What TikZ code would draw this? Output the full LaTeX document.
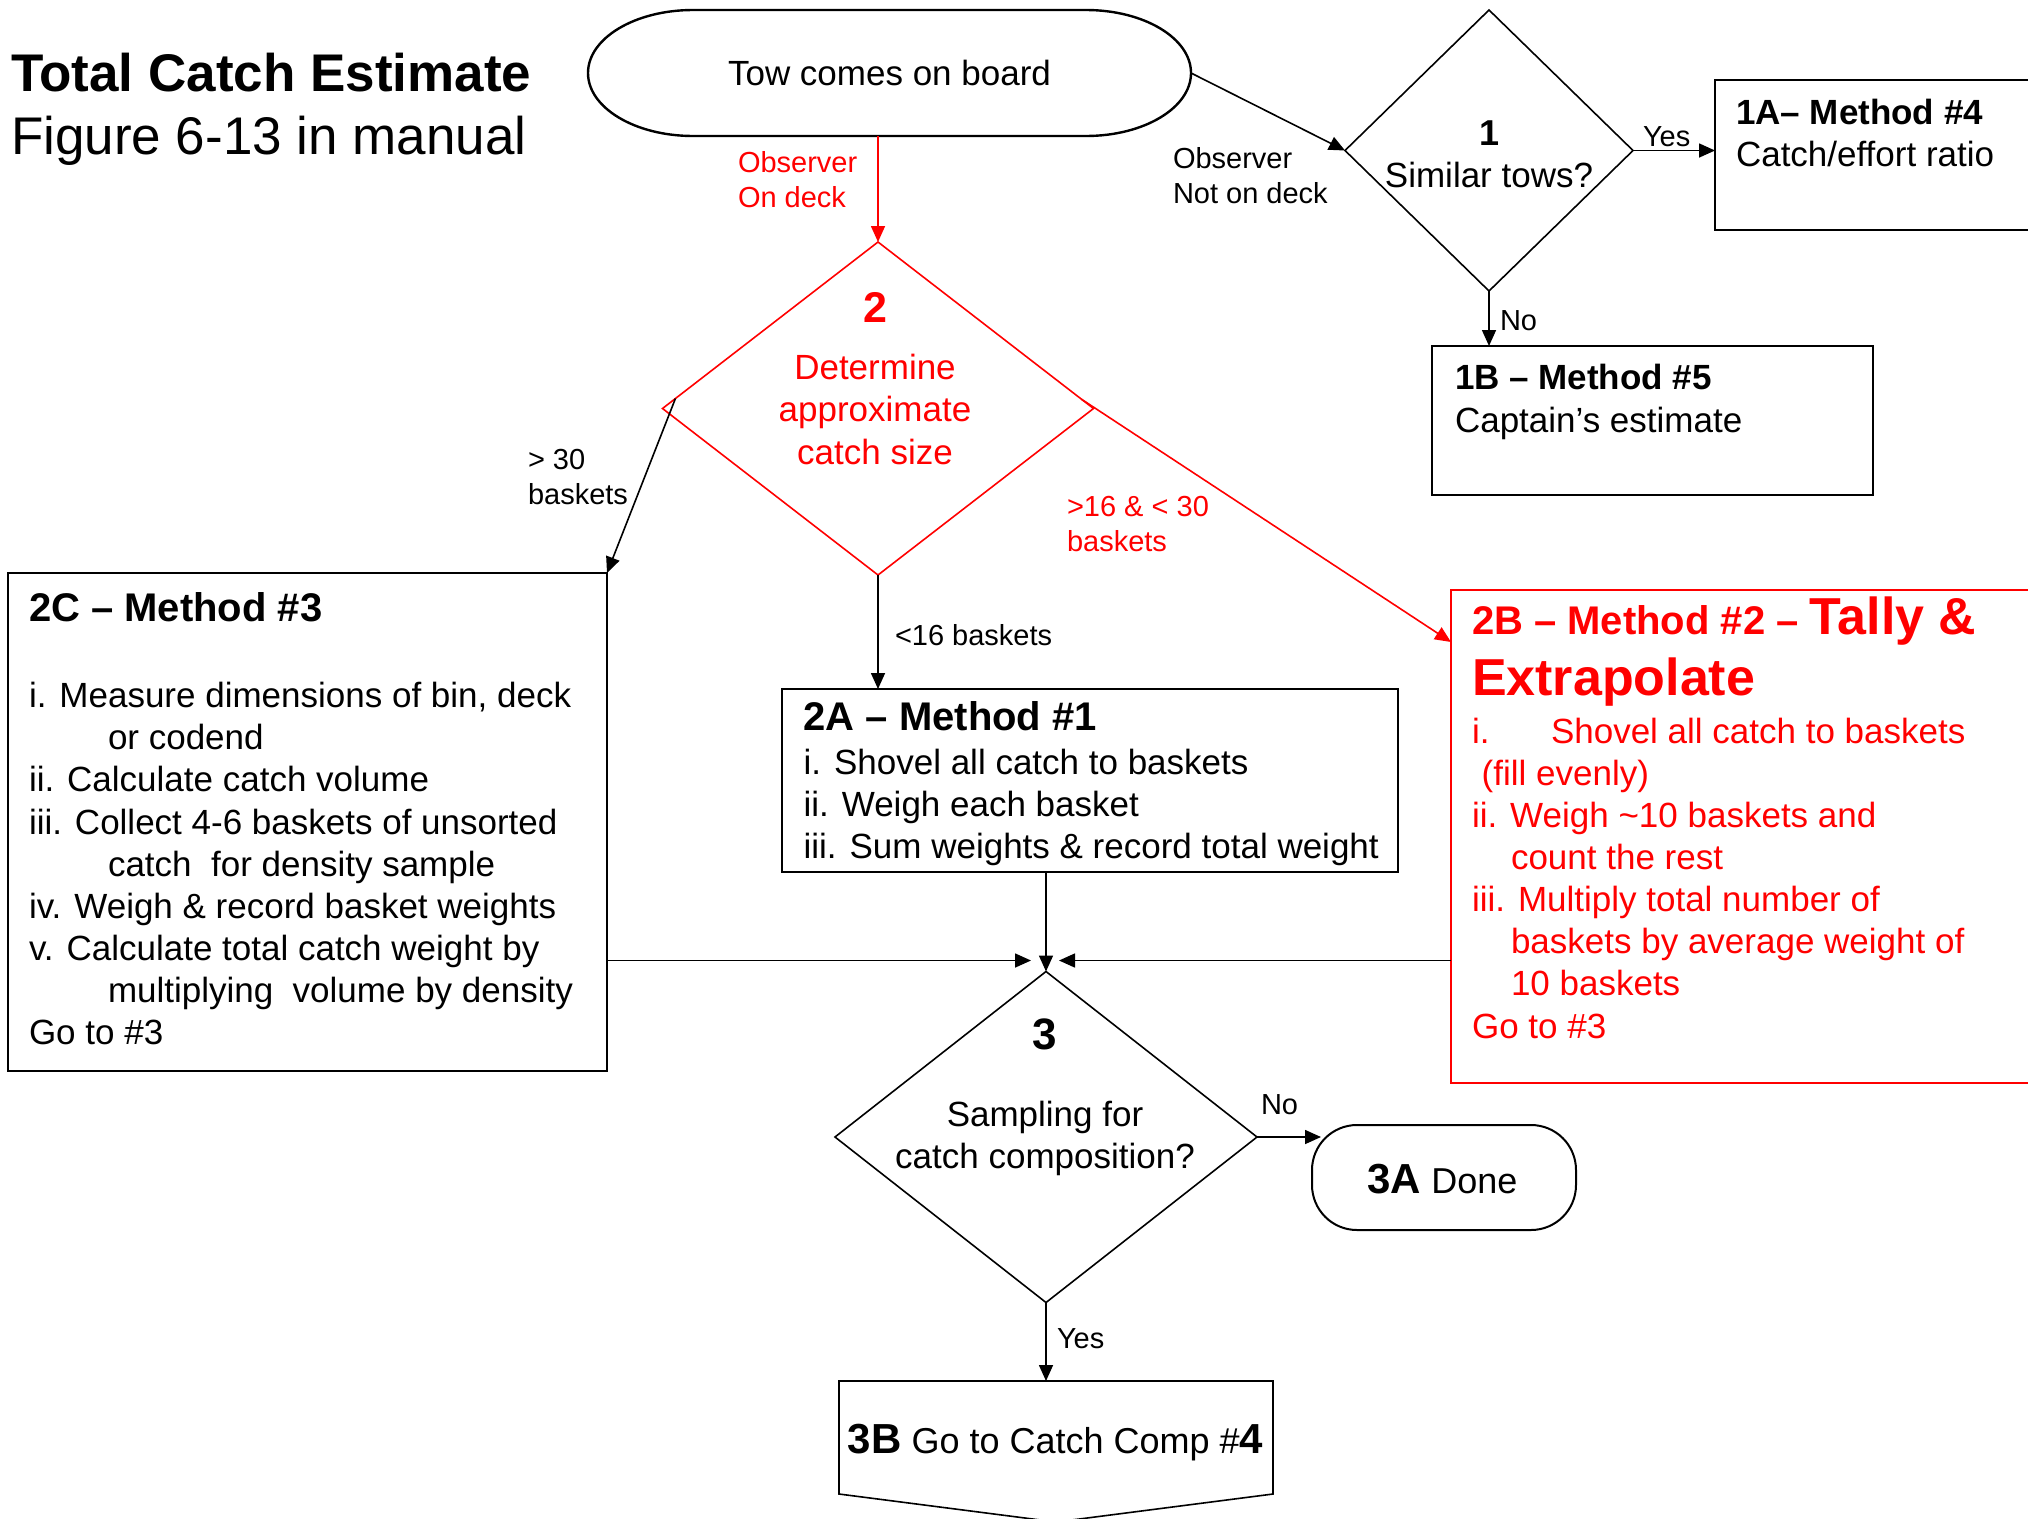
\documentclass[tikz,border=0pt]{standalone}
\usepackage{fontspec}
\setmainfont{Liberation Sans}
\usetikzlibrary{arrows.meta,calc,shapes.geometric}
\definecolor{flagred}{RGB}{255,0,0}
\newcommand{\fsz}[2]{\fontsize{#1}{#2}\selectfont}
\newcommand{\tightlines}{\lineskiplimit=-1000pt\relax}

\begin{document}
\begin{tikzpicture}[x=1pt,y=-1pt,
  every node/.style={inner sep=0pt,outer sep=0pt},
  frame/.style={draw,line width=2.4pt,rectangle,anchor=north west},
  decision/.style={draw,line width=1.6pt,shape=diamond},
  conn/.style={line width=1.6pt,-{Triangle[length=16pt,width=14pt]}},
  % multi-line texts are placed by the baseline of their last line
  txt/.style={anchor=base west,align=left,font=\fsz{35}{42.1}\tightlines},
  ctxt/.style={anchor=base,align=center,font=\fsz{35}{42.1}\tightlines},
  lbl/.style={anchor=base west,align=left,font=\fsz{29}{35}\tightlines}]

\useasboundingbox[fill=white] (0,0) rectangle (2028,1518);

% title
\node[anchor=base west,font=\bfseries\fsz{53}{60}] (title) at (11,91) {Total Catch Estimate};
\node[anchor=base west,font=\fsz{53}{60}] (subtitle) at (11,154) {Figure 6-13 in manual};

% start terminal with elliptical ends
\node[minimum width=603pt,minimum height=126pt] (tow) at (889.5,73) {};
\draw[line width=2.4pt] ($(tow.north west)+(105,0)$) -- ($(tow.north east)+(-105,0)$)
  arc[start angle=90,end angle=-90,x radius=105pt,y radius=63pt]
  -- ($(tow.south west)+(105,0)$)
  arc[start angle=-90,end angle=-270,x radius=105pt,y radius=63pt] -- cycle;
\node[anchor=base,font=\fsz{35}{42}] (towtext) at (889.5,85) {Tow comes on board};

% decisions
\node[decision,minimum width=288pt,minimum height=281pt] (d1) at (1489,150.5) {};
\node[ctxt] (d1text) at (1489,187.5) {{\bfseries\fsz{36}{42.1}1}\\Similar tows?};

\node[decision,draw=flagred,minimum width=431pt,minimum height=333pt] (d2) at (878,408.5) {};
\node[ctxt,text=flagred] (d2text) at (875,464)
  {{\bfseries\fsz{43}{42.1}2}\\[15.4pt]Determine\\approximate\\catch size};

\node[decision,minimum width=422pt,minimum height=331pt] (d3) at (1046,1137) {};
\node[ctxt] (d3text) at (1045,1168.5)
  {{\bfseries\fsz{44}{42.1}3}\\[34.9pt]Sampling for\\catch composition?};

% method boxes
\node[frame,minimum width=330pt,minimum height=150pt] (a1) at (1715,80) {};
\node[txt] (a1text) at (1736,166.5) {{\bfseries 1A– Method \#4}\\Catch/effort ratio};

\node[frame,minimum width=441pt,minimum height=149pt] (b1) at (1432,346) {};
\node[txt] (b1text) at (1455,432) {{\bfseries 1B – Method \#5}\\Captain’s estimate};

\node[frame,minimum width=599pt,minimum height=498pt] (c2) at (8,573) {};
\node[txt] (c2text) at (29,1044.5)
  {{\bfseries\fsz{40}{42.1}2C – Method \#3}\\[1.8pt]
   \\
   i. Measure dimensions of bin, deck\\
   \hspace*{79pt}or codend\\
   ii. Calculate catch volume\\
   iii. Collect 4-6 baskets of unsorted\\
   \hspace*{79pt}catch\ \ for density sample\\
   iv. Weigh \& record basket weights\\
   v. Calculate total catch weight by\\
   \hspace*{79pt}multiplying\ \ volume by density\\
   Go to \#3};

\node[frame,minimum width=616pt,minimum height=183pt] (a2) at (782,689) {};
\node[txt] (a2text) at (803.6,858.7)
  {{\bfseries\fsz{40}{42.1}2A – Method \#1}\\[1.8pt]
   i. Shovel all catch to baskets\\
   ii. Weigh each basket\\
   iii. Sum weights \& record total weight};

\node[frame,draw=flagred,line width=2pt,minimum width=600pt,minimum height=493pt] (b2) at (1451,590) {};
\node[txt,text=flagred] (b2text) at (1472,1038)
  {{\bfseries\fsz{40}{42.1}2B – Method \#2 – \fsz{52}{42.1}Tally \&}\\[19.5pt]
   {\bfseries\fsz{52}{42.1}Extrapolate}\\[5.3pt]
   \makebox[79pt][l]{i.}Shovel all catch to baskets\\
   \ (fill evenly)\\
   ii. Weigh \textasciitilde 10 baskets and\\
   \hspace*{39pt}count the rest\\
   iii. Multiply total number of\\
   \hspace*{39pt}baskets by average weight of\\
   \hspace*{39pt}10 baskets\\
   Go to \#3};

% end terminal and off-page connector
\node[draw,line width=2pt,rounded corners=45pt,minimum width=264pt,minimum height=105pt,anchor=north west] (e3) at (1312,1125) {};
\node[anchor=base,font=\fsz{36}{42}] (e3text) at (1442.5,1193) {{\bfseries\fsz{42}{48}3A} Done};

\node[minimum width=434pt,minimum height=113pt,anchor=north west] (f3) at (839,1381) {};
\draw[line width=1.6pt] (f3.north west) -- (f3.north east) -- (f3.south east)
  -- ($(f3.south)+(0,28)$) -- (f3.south west) -- cycle;
\node[anchor=base,font=\fsz{36}{42}] (f3text) at (1055.5,1453)
  {{\bfseries\fsz{42}{48}3B} Go to Catch Comp \#{\bfseries\fsz{42}{48}4}};

% connectors
\draw[conn] (tow.east) -- (d1.west);
\draw[conn,flagred] (d2.north |- tow.south) -- (d2.north);
\draw[conn] (d1.east) -- (d1.east -| a1.west);
\draw[conn] (d1.south) -- (d1.south |- b1.north);
\draw[conn] ($(d2.west)!0.06!(d2.north)$) -- (c2.north east);
\draw[conn,flagred] ($(d2.east)!0.055!(d2.north)$) -- ($(b2.north west)+(0,52)$);
\draw[conn] (d2.south) -- (d2.south |- a2.north);
\draw[conn] (d3.north |- a2.south) -- (d3.north);
\coordinate (d3in) at ($(d3.north)+(0,-11)$);
\draw[conn] (c2.east |- d3in) -- ($(d3in)+(-15,0)$);
\draw[conn] (b2.west |- d3in) -- ($(d3in)+(13,0)$);
\draw[conn] (d3.east) -- ($(d3.east -| e3.west)+(9,0)$);
\draw[conn] (d3.south) -- (d3.south |- f3.north);

% connector labels
\node[lbl] (lnotdeck) at (1173,203) {Observer\\Not on deck};
\node[lbl,text=flagred] (londeck) at (738,207) {Observer\\On deck};
\node[lbl] (lyes1) at (1643,146.6) {Yes};
\node[lbl] (lno1) at (1500,330) {No};
\node[lbl] (lgt30) at (528,504) {> 30\\baskets};
\node[lbl,text=flagred] (lmid) at (1067,551) {>16 \& < 30\\baskets};
\node[lbl] (llt16) at (895,645) {<16 baskets};
\node[lbl] (lno3) at (1261,1114) {No};
\node[lbl] (lyes3) at (1057,1348.5) {Yes};

\end{tikzpicture}
\end{document}
